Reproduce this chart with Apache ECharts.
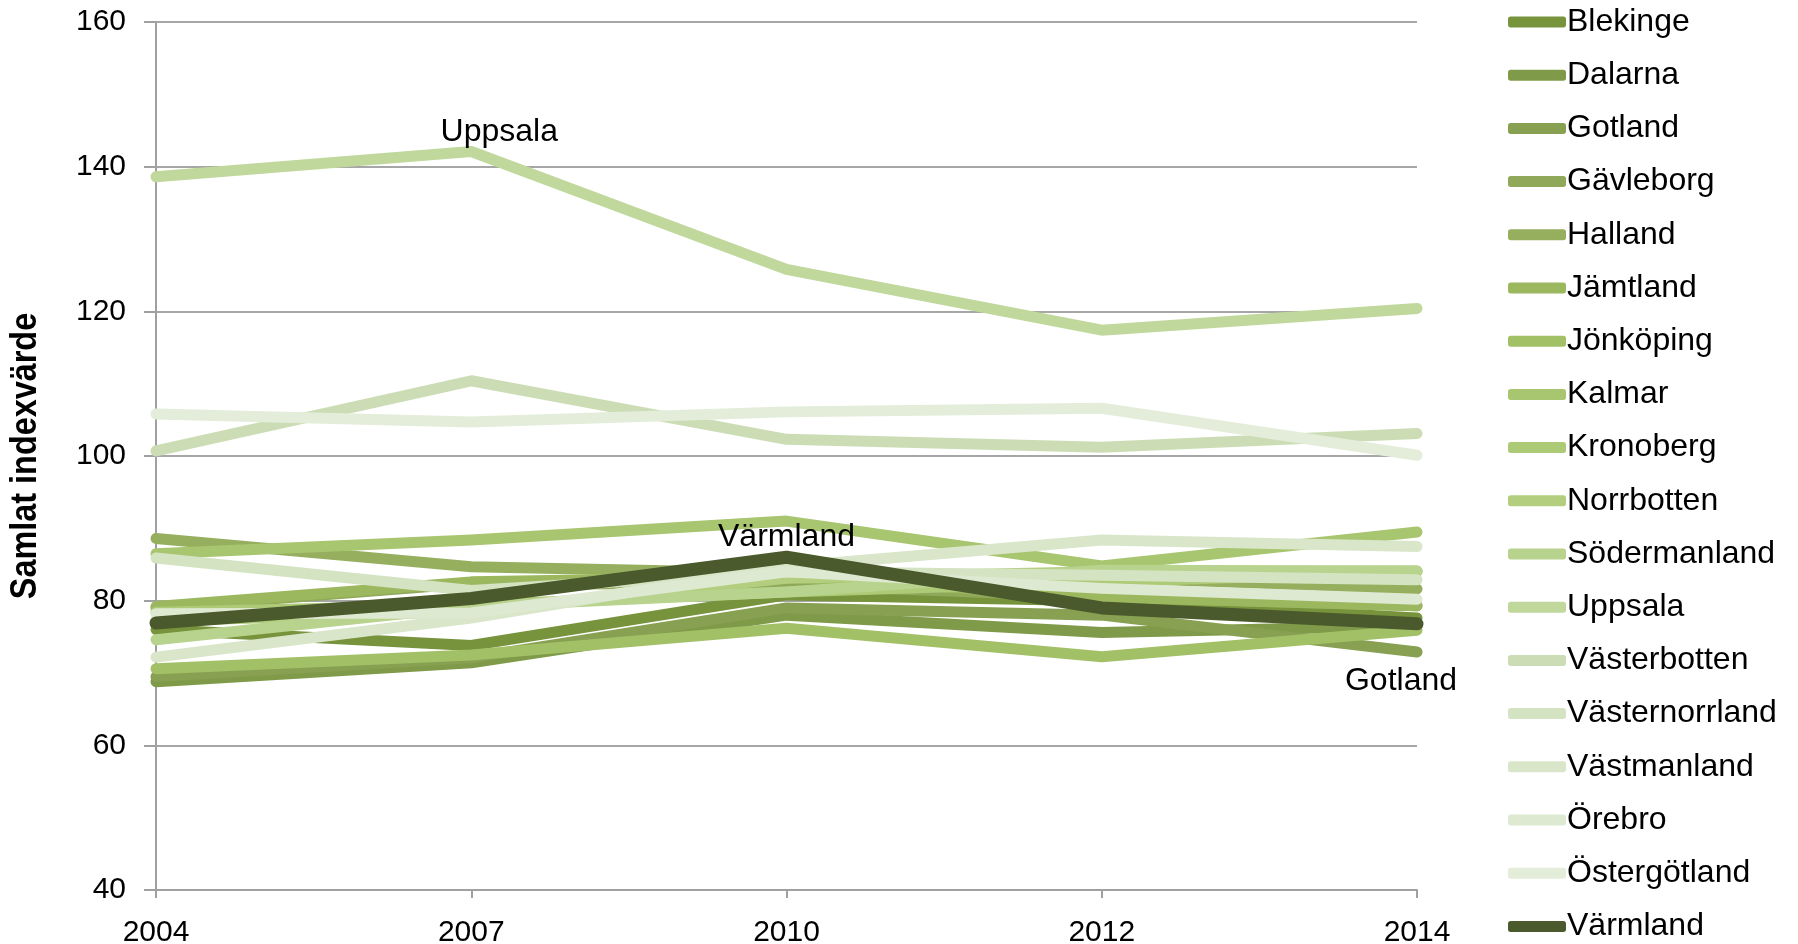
<!DOCTYPE html>
<html>
<head>
<meta charset="utf-8">
<style>
  html, body { margin: 0; padding: 0; background: #fff; }
  #chart { width: 1798px; height: 944px; }
</style>
<script src="https://cdn.jsdelivr.net/npm/echarts@6/dist/echarts.min.js"></script>
</head>
<body>
<div id="chart"></div>
<script>
const years = ["2004", "2007", "2010", "2012", "2014"];
const yTicks = [40, 60, 80, 100, 120, 140, 160];
const yTitle = "Samlat indexvärde";

const regions = [
  "Blekinge", "Dalarna", "Gotland", "Gävleborg", "Halland", "Jämtland",
  "Jönköping", "Kalmar", "Kronoberg", "Norrbotten", "Södermanland", "Uppsala",
  "Västerbotten", "Västernorrland", "Västmanland", "Örebro", "Östergötland", "Värmland"
];

const blekinge = [76.0, 73.8, 80.8, 80.0, 77.6];
const dalarna = [68.8, 71.4, 78.0, 75.6, 76.5];
const gotland = [69.5, 72.1, 79.0, 78.0, 72.9];
const gavleborg = [79.0, 82.4, 82.2, 80.5, 79.3];
const halland = [88.6, 84.7, 83.8, 83.2, 81.6];
const jamtland = [79.2, 82.6, 83.3, 80.5, 79.3];
const jonkoping = [70.6, 72.5, 76.2, 72.25, 75.9];
const kalmar = [86.5, 88.4, 91.0, 84.8, 89.5];
const kronoberg = [78.4, 79.4, 81.2, 82.6, 84.0];
const norrbotten = [77.2, 78.5, 83.1, 84.0, 84.1];
const sodermanland = [74.6, 79.2, 81.2, 84.2, 84.1];
const uppsala = [138.6, 142.1, 125.8, 117.4, 120.4];
const vasterbotten = [100.7, 110.4, 102.3, 101.2, 103.1];
const vasternorrland = [85.9, 81.4, 84.0, 83.5, 82.9];
const vastmanland = [72.2, 77.6, 84.7, 88.4, 87.5];
const orebro = [78.2, 78.3, 84.0, 81.7, 80.2];
const ostergotland = [105.8, 104.7, 106.1, 106.6, 100.1];
const varmland = [76.9, 80.3, 86.0, 79.0, 76.8];

const values = [
  blekinge, dalarna, gotland, gavleborg, halland, jamtland,
  jonkoping, kalmar, kronoberg, norrbotten, sodermanland, uppsala,
  vasterbotten, vasternorrland, vastmanland, orebro, ostergotland, varmland
];

const colors = [
  "#77933C", "#7F9A48", "#87A052", "#8FA85A", "#95AF5F", "#9BB85F",
  "#A2C167", "#A8C56F", "#ADCA76", "#B2CE7E", "#B8D38D", "#C0D89C",
  "#CCDDB5", "#D4E3C2", "#D9E6CA", "#DEE9D1", "#E3EDDA", "#4B5A2D"
];

// which point of a series carries its name: [point index, position, offset]
const pointLabels = {
  "Uppsala": [1, "top", [28, 9]],
  "Värmland": [2, "top", [0, 8]],
  "Gotland": [4, "bottom", [-16, 1]]
};

const font = "Arial, 'Liberation Sans', sans-serif";

const series = regions.map(function (name, i) {
  const lab = pointLabels[name];
  const isVarm = name === "Värmland";
  const s = {
    name: name,
    type: "line",
    data: values[i],
    symbol: "none",
    color: colors[i],
    lineStyle: { width: isVarm ? 13 : 11, color: colors[i], cap: "round", join: "round" },
    emphasis: { disabled: true },
    z: isVarm ? 3 : 2
  };
  if (lab) {
    s.markPoint = {
      symbol: "circle",
      symbolSize: 1,
      itemStyle: { color: "transparent" },
      silent: true,
      data: [{ coord: [lab[0], values[i][lab[0]]] }],
      label: {
        show: true,
        position: lab[1],
        offset: lab[2],
        distance: 12,
        formatter: name,
        color: "#000",
        fontSize: 32,
        fontFamily: font
      }
    };
  }
  return s;
});

const chart = echarts.init(document.getElementById("chart"));
chart.setOption({
  animation: false,
  backgroundColor: "#fff",
  grid: { left: 156, right: 381, top: 22, bottom: 54, outerBoundsMode: "none", containLabel: false },
  legend: {
    orient: "vertical",
    left: 1508,
    top: 6,
    padding: 0,
    height: 938,
    itemWidth: 58,
    itemHeight: 11,
    itemGap: 21.2,
    icon: "roundRect",
    data: regions,
    textStyle: { fontSize: 32, fontFamily: font, color: "#000", lineHeight: 31, padding: [0, 0, 0, -4] },
    selectedMode: false
  },
  graphic: [{
    type: "text",
    x: 26,
    y: 456,
    rotation: Math.PI / 2,
    scaleX: 0.9,
    silent: true,
    style: {
      text: yTitle,
      font: "bold 36px Arial, 'Liberation Sans', sans-serif",
      fill: "#000",
      align: "center",
      verticalAlign: "middle"
    }
  }],
  xAxis: {
    type: "category",
    data: years,
    boundaryGap: false,
    axisLine: { show: true, lineStyle: { color: "#A0A0A0", width: 2 } },
    axisTick: { show: true, alignWithLabel: true, length: 8, lineStyle: { color: "#A0A0A0", width: 2 } },
    axisLabel: { fontSize: 30, fontFamily: font, color: "#000", margin: 28 },
    splitLine: { show: false }
  },
  yAxis: {
    type: "value",
    min: yTicks[0],
    max: yTicks[yTicks.length - 1],
    interval: 20,
    axisLine: { show: true, lineStyle: { color: "#A0A0A0", width: 2 } },
    axisTick: { show: true, length: 12, lineStyle: { color: "#A0A0A0", width: 2 } },
    axisLabel: { fontSize: 30, fontFamily: font, color: "#000", margin: 30 },
    splitLine: { show: true, lineStyle: { color: "#A6A6A6", width: 2 } }
  },
  series: series
});
</script>
</body>
</html>
